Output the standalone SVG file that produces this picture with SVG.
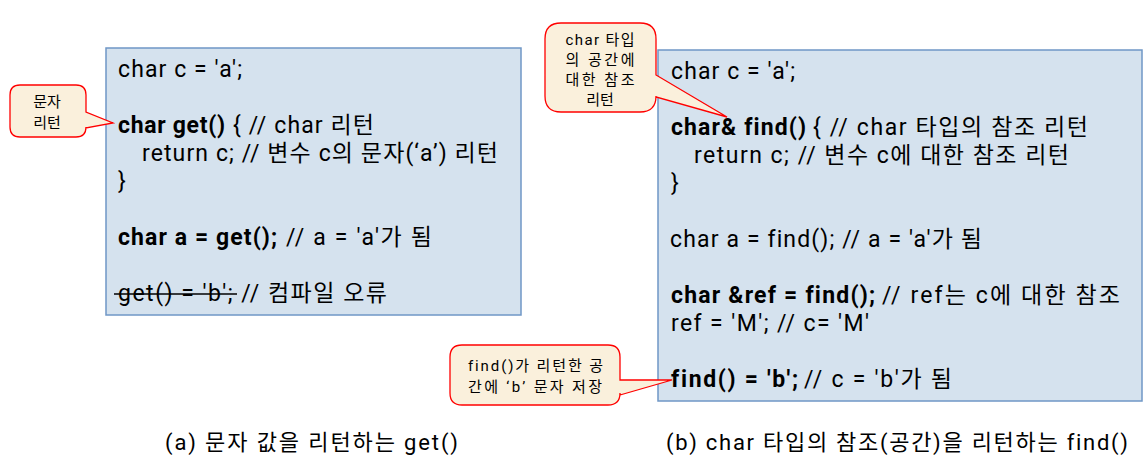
<svg xmlns="http://www.w3.org/2000/svg" width="1147" height="461" viewBox="0 0 1147 461">
<style>
  text { font-family: Roboto, "Noto Sans CJK KR", sans-serif; fill: #000; font-variant-ligatures: none; }
  .code { font-size: 23px; }
  .b { font-weight: bold; }
  .box { fill: #D5E2EE; stroke: #6F97C6; stroke-width: 1.5; }
  .callout { fill: #FAF0DC; stroke: #FF0000; stroke-width: 1.3; }
  .ct { font-size: 15px; text-anchor: middle; }
  .cap { font-size: 22px; }
</style>
<rect width="1147" height="461" fill="#FFFFFF"/>

<g id="box-a">
  <rect class="box" x="106" y="48" width="415" height="267"/>
  <text class="code" x="118" y="77" textLength="124" lengthAdjust="spacing">char c = 'a';</text>
  <text class="code b" x="118" y="133" textLength="107" lengthAdjust="spacing">char get()</text>
  <text class="code" x="233" y="133" textLength="141" lengthAdjust="spacing">{ // char 리턴</text>
  <text class="code" x="142" y="161" textLength="356" lengthAdjust="spacing">return c; // 변수 c의 문자(‘a’) 리턴</text>
  <text class="code" x="118" y="189">}</text>
  <text class="code b" x="118" y="245" textLength="159" lengthAdjust="spacing">char a = get();</text>
  <text class="code" x="286" y="245" textLength="146" lengthAdjust="spacing">// a = 'a'가 됨</text>
  <text class="code" x="118" y="301" textLength="269" lengthAdjust="spacing">get() = 'b'; // 컴파일 오류</text>
  <line x1="114" y1="294" x2="237" y2="294" stroke="#000" stroke-width="1.3"/>
</g>

<g id="box-b">
  <rect class="box" x="658" y="50" width="484" height="351"/>
  <text class="code" x="671" y="79" textLength="124" lengthAdjust="spacing">char c = 'a';</text>
  <text class="code b" x="671" y="135" textLength="135" lengthAdjust="spacing">char&amp; find()</text>
  <text class="code" x="813" y="135" textLength="275" lengthAdjust="spacing">{ // char 타입의 참조 리턴</text>
  <text class="code" x="694" y="163" textLength="375" lengthAdjust="spacing">return c; // 변수 c에 대한 참조 리턴</text>
  <text class="code" x="671" y="191">}</text>
  <text class="code" x="670" y="247" textLength="312" lengthAdjust="spacing">char a = find(); // a = 'a'가 됨</text>
  <text class="code b" x="671" y="303" textLength="204" lengthAdjust="spacing">char &amp;ref = find();</text>
  <text class="code" x="882" y="303" textLength="238" lengthAdjust="spacing">//  ref는 c에 대한 참조</text>
  <text class="code" x="671" y="331" textLength="198" lengthAdjust="spacing">ref = 'M'; // c= 'M'</text>
  <text class="code b" x="671" y="387" textLength="127" lengthAdjust="spacing">find() = 'b';</text>
  <text class="code" x="804" y="387" textLength="148" lengthAdjust="spacing">// c = 'b'가 됨</text>
</g>

<g id="callout-1">
  <path class="callout" d="M20,85 H76 Q86,85 86,95 V112 L113,123 L86,128 V127 Q86,137 76,137 H20 Q10,137 10,127 V95 Q10,85 20,85 Z"/>
  <text class="ct" x="47" y="107">문자</text>
  <text class="ct" x="47" y="128">리턴</text>
</g>

<g id="callout-2">
  <path class="callout" d="M561,23 H640 Q656,23 656,39 V75 L727,117 L656,97 V96 Q656,112 640,112 H561 Q545,112 545,96 V39 Q545,23 561,23 Z"/>
  <text class="ct" x="600" y="45" textLength="69" lengthAdjust="spacing">char 타입</text>
  <text class="ct" x="600" y="65" textLength="69" lengthAdjust="spacing">의 공간에</text>
  <text class="ct" x="600" y="85" textLength="69" lengthAdjust="spacing">대한 참조</text>
  <text class="ct" x="600" y="105">리턴</text>
</g>

<g id="callout-3">
  <path class="callout" d="M462,345 H608 Q620,345 620,357 V380 L672,380 L620,395 V393 Q620,405 608,405 H462 Q450,405 450,393 V357 Q450,345 462,345 Z"/>
  <text class="ct" x="535.5" y="371" textLength="135" lengthAdjust="spacing">find()가 리턴한 공</text>
  <text class="ct" x="535" y="392" textLength="134" lengthAdjust="spacing">간에 ‘b’ 문자 저장</text>
</g>

<g id="captions">
  <text class="cap" x="165" y="450" textLength="293" lengthAdjust="spacing">(a) 문자 값을 리턴하는 get()</text>
  <text class="cap" x="666" y="450" textLength="462" lengthAdjust="spacing">(b) char 타입의 참조(공간)을 리턴하는 find()</text>
</g>
</svg>
